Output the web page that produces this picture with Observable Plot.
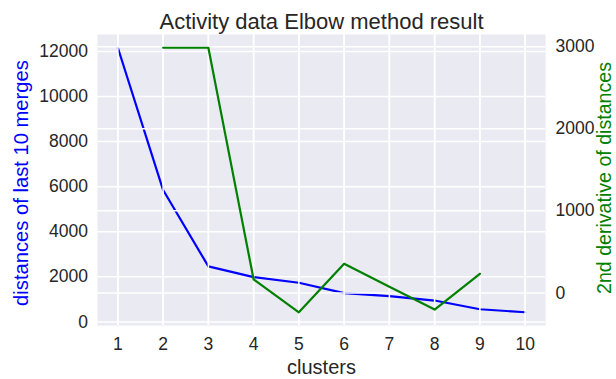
<!DOCTYPE html>
<html>
<head>
<meta charset="utf-8">
<script src="https://cdn.jsdelivr.net/npm/d3@7"></script>
<script src="https://cdn.jsdelivr.net/npm/@observablehq/plot@0.6"></script>
<style>
  html, body { margin: 0; padding: 0; background: white; }
</style>
</head>
<body>
<div id="chart"></div>
<script>
// Data
const clusters = [1, 2, 3, 4, 5, 6, 7, 8, 9, 10];
const distances = [12166, 5851, 2464, 1990, 1738, 1275, 1141, 949, 562, 428];
const accelClusters = [2, 3, 4, 5, 6, 7, 8, 9];
const acceleration = [2988, 2988, 164, -236, 355, 75, -203, 233];
const leftTicks = [0, 2000, 4000, 6000, 8000, 10000, 12000];
const rightTicks = [0, 1000, 2000, 3000];
const xTicks = clusters;

const titleText = "Activity data Elbow method result";
const xLabel = "clusters";
const leftLabel = "distances of last 10 merges";
const rightLabel = "2nd derivative of distances";

// matplotlib-style 5% margins
function padded(vals) {
  const lo = d3.min(vals), hi = d3.max(vals), m = (hi - lo) * 0.05;
  return [lo - m, hi + m];
}
const xDomain = padded(clusters);
const leftDomain = padded(distances);
const rightDomain = padded(acceleration);
// twin axis: map right-axis values into the left scale's domain
const toLeft = d3.scaleLinear(rightDomain, leftDomain);

const blueData = clusters.map((c, i) => ({x: c, y: distances[i]}));
const greenData = accelClusters.map((c, i) => ({x: c, y: toLeft(acceleration[i])}));

const tickColor = "#262626";
const gridOpts = {stroke: "white", strokeOpacity: 1, strokeWidth: 1.5};

const chart = Plot.plot({
  width: 616,
  height: 379,
  marginLeft: 97,
  marginRight: 71,
  marginTop: 34,
  marginBottom: 54,
  style: {background: "white", fontFamily: "'Liberation Sans', Arial, sans-serif", fontSize: "17.5px", color: tickColor},
  x: {domain: xDomain},
  y: {domain: leftDomain},
  marks: [
    Plot.frame({fill: "#EAEAF2", stroke: null}),
    Plot.gridX(xTicks, gridOpts),
    Plot.gridY(leftTicks, gridOpts),
    Plot.line(blueData, {x: "x", y: "y", stroke: "blue", strokeWidth: 2.2}),
    // twin axes grid drawn above the first line
    Plot.gridY(rightTicks.map(toLeft), gridOpts),
    Plot.gridX(xTicks, gridOpts),
    Plot.line(greenData, {x: "x", y: "y", stroke: "green", strokeWidth: 2.2}),
    Plot.axisX(xTicks, {tickSize: 0, tickPadding: 12.5, label: null, fontSize: 17.5, fill: tickColor, tickFormat: d => String(d)}),
    Plot.axisY(leftTicks, {anchor: "left", tickSize: 0, tickPadding: 9.5, label: null, fontSize: 17.5, fill: tickColor, tickFormat: d => String(d)}),
    Plot.axisY(rightTicks.map(toLeft), {anchor: "right", tickSize: 0, tickPadding: 10, label: null, fontSize: 17.5, fill: tickColor,
      tickFormat: d => String(Math.round(toLeft.invert(d)))}),
    Plot.text([titleText], {frameAnchor: "top", dy: -12.7, textAnchor: "middle", lineAnchor: "middle", fontSize: 22, fill: tickColor}),
    Plot.text([xLabel], {frameAnchor: "bottom", dy: 42.5, textAnchor: "middle", lineAnchor: "middle", fontSize: 20, fill: tickColor}),
    Plot.text([leftLabel], {frameAnchor: "left", dx: -76.3, dy: 3, rotate: -90, textAnchor: "middle", lineAnchor: "middle", fontSize: 20.2, fill: "blue"}),
    Plot.text([rightLabel], {frameAnchor: "right", dx: 59.5, dy: -2, rotate: -90, textAnchor: "middle", lineAnchor: "middle", fontSize: 19.6, fill: "green"})
  ]
});
document.getElementById("chart").appendChild(chart);
</script>
</body>
</html>
